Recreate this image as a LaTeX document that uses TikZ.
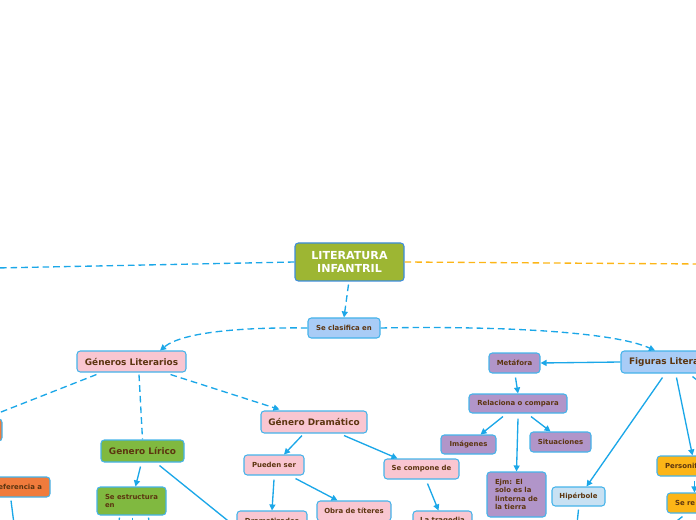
\documentclass[tikz,border=0pt]{standalone}
\usepackage{fontspec}
\setmainfont{DejaVu Sans}
\usetikzlibrary{arrows.meta,calc}

\definecolor{lineblue}{HTML}{1BA7E8}
\definecolor{rimblue}{HTML}{45B3EA}
\definecolor{titlerim}{HTML}{3C8CDC}
\definecolor{olive}{HTML}{9DB633}
\definecolor{skyfill}{HTML}{A9CCF6}
\definecolor{pinkfill}{HTML}{F9C6D1}
\definecolor{grassfill}{HTML}{80B940}
\definecolor{carrot}{HTML}{F07B3C}
\definecolor{lilac}{HTML}{B195C9}
\definecolor{paleblue}{HTML}{C8E1F3}
\definecolor{amber}{HTML}{FCB517}
\definecolor{brownink}{HTML}{5C3510}

\newcommand{\tinytxt}{\bfseries\fontsize{5.2}{6.2}\selectfont}
\newcommand{\midtxt}{\bfseries\fontsize{6.7}{8}\selectfont}

\begin{document}
\begin{tikzpicture}[x=0.75pt,y=0.75pt,yscale=-1,xscale=1,
  box/.style={draw=rimblue,line width=0.8pt,rounded corners=2.5pt,inner sep=0pt,
    text=brownink,font=\tinytxt},
  pinkbox/.style={box,fill=pinkfill},
  greenbox/.style={box,fill=grassfill},
  purplebox/.style={box,fill=lilac},
  orangebox/.style={box,fill=carrot},
  amberbox/.style={box,fill=amber},
  link/.style={draw=lineblue,line width=1pt},
  arrowlink/.style={link,-{Triangle[length=4.5pt,width=4.5pt]}},
  dashlink/.style={link,dash pattern=on 5pt off 3pt},
  dasharrow/.style={dashlink,-{Triangle[length=4.5pt,width=4.5pt]}}]
\useasboundingbox (0,0) rectangle (696,520);

% Main node
\node [box,draw=titlerim,fill=olive,text=white,align=center,
  font=\bfseries\fontsize{8.3}{9.8}\selectfont,
  minimum width=81.75pt,minimum height=28.5pt] (lit) at (349.5,262) {LITERATURA\\INFANTRIL};
\node [box,fill=skyfill,minimum width=54pt,minimum height=15pt] (clasif) at (344,328) {Se clasifica en};

% Generos literarios
\node [pinkbox,font=\midtxt,minimum width=81.75pt,minimum height=15.75pt] (generos) at (131.5,361.5) {Géneros Literarios};
\node [orangebox,minimum width=46.5pt,minimum height=16.5pt] (narrativo) at (-29,430) {};
\node [orangebox,text width=48pt,align=right,minimum height=15pt,inner xsep=6pt] (refer) at (10,487) {Referencia a};
\node [greenbox,font=\midtxt,minimum width=62.25pt,minimum height=16.5pt] (lirico) at (142.5,451) {Genero Lírico};
\node [greenbox,text width=39.75pt,align=left,minimum height=21pt,inner xsep=6pt] (estruct) at (131.5,501) {Se estructura\\en};
\node [pinkbox,font=\midtxt,minimum width=79.5pt,minimum height=16.5pt] (dramatico) at (314,422) {Género Dramático};
\node [pinkbox,minimum width=45pt,minimum height=15pt] (pueden) at (274,465) {Pueden ser};
\node [pinkbox,minimum width=56.25pt,minimum height=15pt] (compone) at (421.5,469) {Se compone de};
\node [pinkbox,minimum width=52.5pt,minimum height=15pt] (dramatiz) at (272,521) {Dramatizados};
\node [pinkbox,minimum width=55.5pt,minimum height=15pt] (titeres) at (354,511) {Obra de títeres};
\node [pinkbox,minimum width=44.25pt,minimum height=15pt] (tragedia) at (442.5,521) {La tragedia};

% Figuras literarias
\node [box,fill=skyfill,font=\midtxt,text width=78pt,align=left,minimum height=16.5pt,inner xsep=6pt] (figuras) at (681,362) {Figuras Literarias};
\node [purplebox,minimum width=38.25pt,minimum height=15pt] (metafora) at (514.5,363) {Metáfora};
\node [purplebox,minimum width=73.5pt,minimum height=14.25pt] (relaciona) at (518,403.5) {Relaciona o compara};
\node [purplebox,minimum width=41.25pt,minimum height=14.25pt] (imagenes) at (468.5,444.5) {Imágenes};
\node [purplebox,minimum width=45.75pt,minimum height=15pt] (situac) at (560.5,442) {Situaciones};
\node [purplebox,text width=32.25pt,align=left,minimum height=33.75pt,inner xsep=6pt] (ejemplo) at (516.5,494.5) {Ejm: El\\solo es la\\linterna de\\la tierra};
\node [box,fill=paleblue,minimum width=39.75pt,minimum height=14.25pt] (hiperbole) at (578.5,496.5) {Hipérbole};
\node [amberbox,text width=48pt,align=left,minimum height=15pt,inner xsep=6pt] (personif) at (697,466) {Personificación};
\node [amberbox,text width=40.5pt,align=left,minimum height=15pt,inner xsep=6pt] (serefiere) at (702,503) {Se re};

% Loose ends
\coordinate (westend) at (-4,268);
\coordinate (eastend) at (700,264);
\coordinate (narrend) at (-4,414);
\coordinate (lirend) at (232,524);
\coordinate (referend) at (14,524);
\coordinate (hipend) at (577,524);
\coordinate (figend) at (702,384);
\coordinate (sereend) at (673,524);

% Connectors
\draw [dashlink] (lit.west) -- (westend);
\draw [dashlink,draw=amber] (lit.east) -- (eastend);
\draw [dasharrow] ($(lit.south)+(-1,3)$) -- (clasif.north);
\draw [dasharrow] (clasif.west) .. controls (230,327) and (180,334) .. (160,350.5);
\draw [dasharrow] (clasif.east) .. controls (480,326) and (610,330) .. (655,350.5);

\draw [dashlink] ($(generos.south west)+(20,2)$) -- (narrend);
\draw [dashlink] ($(generos.south)+(7.5,2)$) -- (lirico.north);
\draw [dasharrow] ($(generos.south east)+(-16,2)$) -- ($(dramatico.north west)+(19,-1)$);
\draw [arrowlink] ($(lirico.south)+(-2,4)$) -- ($(estruct.north)+(4,0)$);
\draw [link] ($(lirico.south)+(17,3)$) -- (lirend);
\draw [link] ($(refer.south)+(1,3)$) -- (referend);
\foreach \dx/\ex in {-12/-13,1/1,17/18}
  \draw [dashlink] ($(estruct.south)+(\dx,2)$) -- ++(\ex-\dx,8);

\draw [arrowlink] ($(dramatico.south)+(-12,2)$) -- ($(pueden.north)+(10,0)$);
\draw [arrowlink] ($(dramatico.south)+(30,2)$) -- ($(compone.north west)+(14,0)$);
\draw [arrowlink] ($(pueden.south)+(0,4)$) -- (dramatiz.north);
\draw [arrowlink] ($(pueden.south east)+(-9,3)$) -- ($(titeres.north west)+(21,0)$);
\draw [arrowlink] ($(compone.south)+(6,4)$) -- ($(tragedia.north)+(-4,0)$);

\draw [arrowlink] (figuras.west) -- (metafora.east);
\draw [arrowlink] ($(metafora.south)+(1,4)$) -- (relaciona.north);
\draw [arrowlink] ($(relaciona.south)+(-15,3)$) -- ($(imagenes.north east)+(-16,0)$);
\draw [arrowlink] ($(relaciona.south)+(13,3)$) -- ($(situac.north)+(-10,0)$);
\draw [arrowlink] ($(relaciona.south)+(0,5)$) -- (ejemplo.north);
\draw [arrowlink] ($(figuras.south west)+(42,4)$) -- ($(hiperbole.north east)+(-19,0)$);
\draw [arrowlink] ($(figuras.south west)+(56,4)$) -- ($(personif.north west)+(36,0)$);
\draw [link] ($(figuras.south west)+(72,3)$) -- (figend);
\draw [link] ($(hiperbole.south)+(0,3)$) -- (hipend);
\draw [arrowlink] ($(personif.south west)+(38,4)$) -- ($(serefiere.north west)+(28,0)$);
\draw [link] ($(serefiere.south west)+(16,3)$) -- (sereend);

\end{tikzpicture}
\end{document}
